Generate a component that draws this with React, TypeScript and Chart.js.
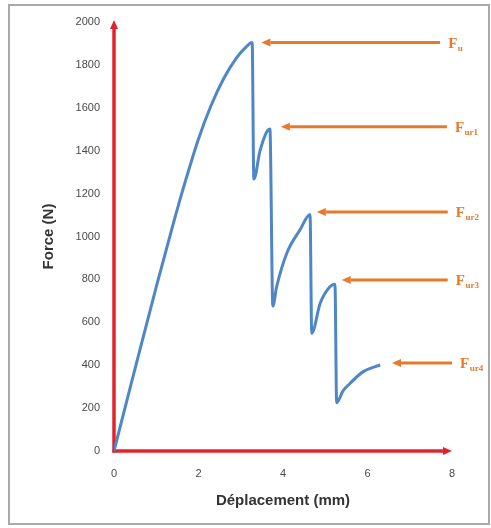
import React, { useEffect, useRef } from "react";
import { Chart, registerables } from "chart.js";

Chart.register(...registerables);

// Force–displacement curve (mm, N)
const displacement = [0, 0.5, 1.0, 1.4, 1.7, 2.0, 2.3, 2.6, 2.9, 3.1, 3.27, 3.31, 3.46, 3.69, 3.76, 3.85, 4.09, 4.4, 4.64, 4.68, 4.88, 5.11, 5.23, 5.27, 5.42, 5.59, 5.9, 6.3];
const force = [0, 385, 765, 1058, 1265, 1455, 1612, 1738, 1833, 1878, 1905, 1268, 1403, 1501, 676, 766, 922, 1030, 1103, 549, 689, 766, 777, 225, 280, 316, 370, 401];

// Annotation arrows
const arrowLabels = ["u", "ur1", "ur2", "ur3", "ur4"];
const arrowForce = [1904, 1512, 1114, 797, 410];
const arrowHeadX = [3.49, 3.95, 4.8, 5.39, 6.58];
const arrowTailX = [7.72, 7.88, 7.9, 7.9, 8.0];

const xTicks = [0, 2, 4, 6, 8];
const yTicks = [0, 200, 400, 600, 800, 1000, 1200, 1400, 1600, 1800, 2000];

const RED = "#E3232B";
const ORANGE = "#E8782A";
const BLUE = "#4F86C6";

function drawArrow(ctx: CanvasRenderingContext2D, x1: number, y1: number, x2: number, y2: number, color: string, width: number, headLen: number, headHalf: number) {
  const ang = Math.atan2(y2 - y1, x2 - x1);
  const bx = x2 - Math.cos(ang) * headLen;
  const by = y2 - Math.sin(ang) * headLen;
  ctx.save();
  ctx.strokeStyle = color;
  ctx.fillStyle = color;
  ctx.lineWidth = width;
  ctx.lineCap = "butt";
  ctx.beginPath();
  ctx.moveTo(x1, y1);
  ctx.lineTo(bx, by);
  ctx.stroke();
  ctx.beginPath();
  ctx.moveTo(x2, y2);
  ctx.lineTo(bx + Math.sin(ang) * headHalf, by - Math.cos(ang) * headHalf);
  ctx.lineTo(bx - Math.sin(ang) * headHalf, by + Math.cos(ang) * headHalf);
  ctx.closePath();
  ctx.fill();
  ctx.restore();
}

const axesPlugin = {
  id: "redAxes",
  beforeDatasetsDraw(chart: any) {
    const { ctx, scales } = chart;
    const xs = scales.x, ys = scales.y;
    const x0 = xs.getPixelForValue(0);
    const y0 = ys.getPixelForValue(0);
    drawArrow(ctx, x0, y0 + 1.5, x0, ys.getPixelForValue(2000) - 2, RED, 3.5, 9, 4);
    drawArrow(ctx, x0 - 1.5, y0, xs.getPixelForValue(8), y0, RED, 3.5, 9, 4);
  },
  afterDatasetsDraw(chart: any) {
    const { ctx, scales } = chart;
    const xs = scales.x, ys = scales.y;
    for (let i = 0; i < arrowForce.length; i++) {
      const y = ys.getPixelForValue(arrowForce[i]);
      const hx = xs.getPixelForValue(arrowHeadX[i]);
      const tx = xs.getPixelForValue(arrowTailX[i]);
      drawArrow(ctx, tx, y, hx, y, ORANGE, 3, 9, 4);
      ctx.save();
      ctx.fillStyle = ORANGE;
      ctx.textBaseline = "alphabetic";
      ctx.textAlign = "left";
      ctx.font = "bold 15px 'Liberation Serif'";
      const fx = tx + 8;
      ctx.fillText("F", fx, y + 5);
      const fw = ctx.measureText("F").width;
      ctx.font = "bold 9px 'Liberation Serif'";
      ctx.fillText(arrowLabels[i], fx + fw + 0.5, y + 8);
      ctx.restore();
    }
  },
};

export default function App() {
  const ref = useRef<HTMLCanvasElement | null>(null);
  useEffect(() => {
    document.body.style.margin = "0";
    const ctx = ref.current!.getContext("2d")!;
    const chart = new Chart(ctx, {
      type: "line",
      data: {
        datasets: [
          {
            data: displacement.map((x, i) => ({ x, y: force[i] })),
            borderColor: BLUE,
            borderWidth: 3,
            pointRadius: 0,
            cubicInterpolationMode: "monotone",
            fill: false,
          },
        ],
      },
      options: {
        animation: false,
        responsive: false,
        layout: { padding: { left: 40, top: 22, right: 39, bottom: 0 } },
        plugins: { legend: { display: false }, tooltip: { enabled: false } },
        scales: {
          x: {
            type: "linear",
            min: 0,
            max: 8,
            afterBuildTicks: (s: any) => { s.ticks = xTicks.map((v) => ({ value: v })); },
            afterFit: (s: any) => { s.height = 77; },
            grid: { display: false, drawTicks: false },
            border: { display: false },
            ticks: { padding: 16, color: "#4a4a4a", font: { family: "'Liberation Sans'", size: 11 }, callback: (v: any) => String(v) },
            title: {
              display: true,
              text: "Déplacement (mm)",
              color: "#333",
              font: { family: "'Liberation Sans'", size: 15, weight: "bold" },
              padding: { top: 0, bottom: 18 },
            },
          },
          y: {
            type: "linear",
            min: 0,
            max: 2000,
            afterBuildTicks: (s: any) => { s.ticks = yTicks.map((v) => ({ value: v })); },
            afterFit: (s: any) => { s.width = 74; },
            grid: { display: false, drawTicks: false },
            border: { display: false },
            ticks: { padding: 14, color: "#4a4a4a", font: { family: "'Liberation Sans'", size: 11 }, callback: (v: any) => String(v) },
            title: {
              display: true,
              text: "Force (N)",
              color: "#333",
              font: { family: "'Liberation Sans'", size: 15, weight: "bold" },
              padding: { top: 0, bottom: 0 },
            },
          },
        },
      },
      plugins: [axesPlugin],
    } as any);
    return () => chart.destroy();
  }, []);
  return (
    <div style={{ position: "relative", width: 491, height: 528, background: "#fff" }}>
      <div style={{ position: "absolute", left: 8, top: 4, width: 482, height: 521, border: "2px solid #a9a9a9", boxSizing: "border-box" }} />
      <canvas ref={ref} width={491} height={528} style={{ position: "absolute", left: 0, top: 0 }} />
    </div>
  );
}
